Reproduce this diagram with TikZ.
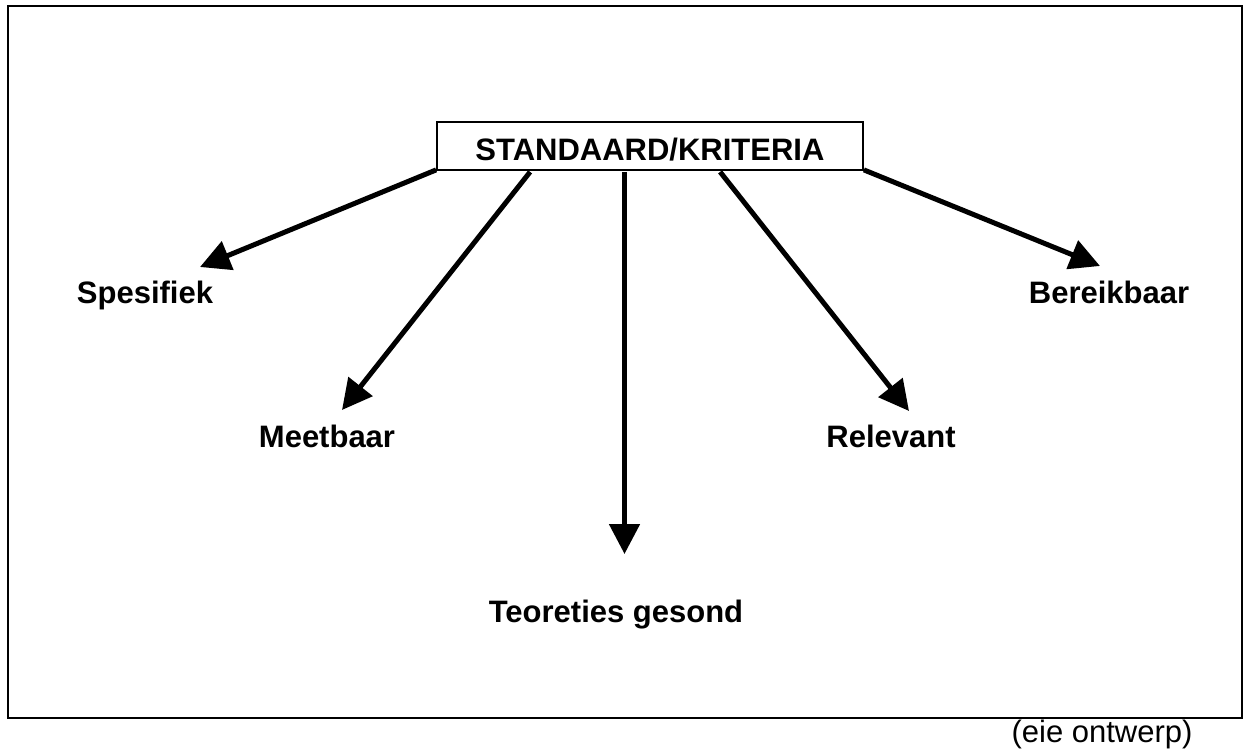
\documentclass[tikz,border=0pt]{standalone}
\usepackage{fontspec}
\setmainfont{Liberation Sans}
\usetikzlibrary{arrows.meta,calc}
\begin{document}
\begin{tikzpicture}[x=1pt,y=-1pt,
  lbl/.style={font=\fontsize{31}{37}\selectfont\bfseries, anchor=base, inner sep=0pt},
  note/.style={font=\fontsize{31}{37}\selectfont, anchor=base, inner sep=0pt},
  headbox/.style={draw, line width=1.8pt, minimum width=426pt, minimum height=48pt,
    inner sep=0pt, text height=28pt, text depth=0pt,
    font=\fontsize{31}{37}\selectfont\bfseries},
  arr/.style={line width=5pt, -{Triangle[length=30pt,width=30pt]}},
  frame/.style={draw, line width=2pt}
]
\useasboundingbox (0,0) rectangle (1249,752);
% outer frame
\path[frame] (8,6) rectangle (1242,718);

% central heading
\node[headbox] (box) at (650,146) {STANDAARD/KRITERIA};

% criteria labels
\node[lbl] (spes) at (145,303) {Spesifiek};
\node[lbl] (meet) at (327,447) {Meetbaar};
\node[lbl] (teor) at (616,622) {Teoreties gesond};
\node[lbl] (rele) at (891,447) {Relevant};
\node[lbl] (bere) at (1109,303) {Bereikbaar};

% source note
\node[note] (src) at (1102,742) {(eie ontwerp)};

% arrow tips just above each label
\coordinate (tipS) at (200,267);
\coordinate (tipM) at (342,410);
\coordinate (tipT) at (624.5,554);
\coordinate (tipR) at (909,411);
\coordinate (tipB) at (1100,266);

% connectors from the heading
\draw[arr] ($(box.south west)+(0,-1)$) -- (tipS);
\draw[arr] ($(box.south west)+(94,1)$) -- (tipM);
\draw[arr] ($(tipT |- box.south)+(0,1)$) -- (tipT);
\draw[arr] ($(box.south west)+(284,1)$) -- (tipR);
\draw[arr] ($(box.south east)+(0,-1)$) -- (tipB);
\end{tikzpicture}
\end{document}
